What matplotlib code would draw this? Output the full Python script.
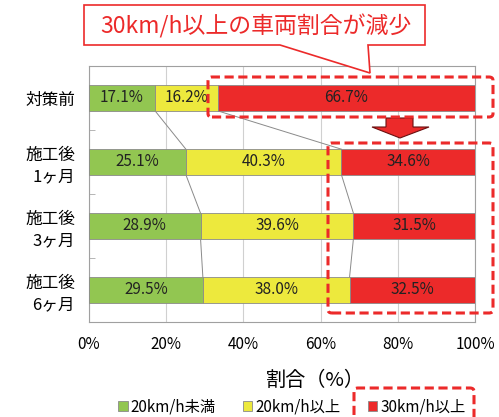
import numpy as np
import matplotlib.pyplot as plt
from matplotlib.patches import Polygon, FancyBboxPatch

plt.rcParams['font.family'] = ['Noto Sans CJK JP', 'DejaVu Sans']

# データ
categories = ['対策前', '施工後\n1ヶ月', '施工後\n3ヶ月', '施工後\n6ヶ月']
under20 = [17.1, 25.1, 28.9, 29.5]   # 20km/h未満
over20 = [16.2, 40.3, 39.6, 38.0]    # 20km/h以上
over30 = [66.7, 34.6, 31.5, 32.5]    # 30km/h以上
series_names = ['20km/h未満', '20km/h以上', '30km/h以上']
colors = ['#92c651', '#ede93d', '#ec2a2a']
xticks = [0, 20, 40, 60, 80, 100]

W, H = 499, 417
fig = plt.figure(figsize=(W / 100, H / 100), dpi=100)
ax = fig.add_axes([89 / W, 1 - 322 / H, 386 / W, 256 / H])


def px(x, y):
    return (x / W, 1 - y / H)


y = np.arange(len(categories))
bh = 0.4
left = np.zeros(len(categories))
for vals, c, name in zip([under20, over20, over30], colors, series_names):
    ax.barh(y, vals, left=left, height=bh, color=c, edgecolor='#8a8a8a',
            linewidth=0.6, label=name, zorder=3)
    for yi, v, l in zip(y, vals, left):
        ax.text(l + v / 2, yi, f'{v:.1f}%', ha='center', va='center',
                fontsize=11, color='#222222', zorder=4)
    left = left + np.array(vals)

# 系列線
cum1 = np.array(under20)
cum2 = cum1 + np.array(over20)
for cum in [cum1, cum2]:
    for i in range(len(categories) - 1):
        ax.plot([cum[i], cum[i + 1]], [i + bh / 2, i + 1 - bh / 2],
                color='#8a8a8a', lw=0.7, zorder=2)

ax.set_xlim(0, 100)
ax.set_ylim(len(categories) - 0.5, -0.5)
ax.set_xticks(xticks)
ax.set_xticklabels([f'{t}%' for t in xticks], fontsize=11)
ax.tick_params(axis='x', length=0, pad=10)
ax.set_yticks(y)
ax.set_yticklabels(categories, fontsize=12, linespacing=1.3)
ax.tick_params(axis='y', length=0, pad=10)
ax.set_yticks(np.arange(0.5, len(categories) - 0.5), minor=True)
ax.tick_params(axis='y', which='minor', direction='in', length=4, color='#aaaaaa')
ax.grid(axis='x', color='#d0d0d0', lw=0.8, zorder=0)
for s in ax.spines.values():
    s.set_color('#a0a0a0')
ax.set_xlabel('割合（%）', fontsize=14.5)
ax.xaxis.set_label_coords((315 - 89) / 386, -(370 - 322) / 256)

ax.legend(loc='center', bbox_to_anchor=(292 / W, px(0, 407)[1]),
          bbox_transform=fig.transFigure, ncol=3, frameon=False,
          fontsize=11, handlelength=0.6, handleheight=0.6,
          handletextpad=0.2, columnspacing=1.8)

# 吹き出し
callout = Polygon([px(84, 5), px(425, 5), px(425, 45), px(368, 45), px(370, 73),
                   px(280, 45), px(84, 45)], closed=True, transform=fig.transFigure,
                  facecolor='white', edgecolor='#ec2a2a', lw=1.2, zorder=10)
fig.add_artist(callout)
fig.text(*px(256, 26), '30km/h以上の車両割合が減少', ha='center', va='center',
         fontsize=16.5, color='#ec2a2a', zorder=11)

# 点線枠
for x0, y0, x1, y1 in [(208, 77, 493, 117), (328, 143, 493, 313), (354, 388, 474, 430)]:
    (fx0, fy1), (fx1, fy0) = px(x0, y0), px(x1, y1)
    box = FancyBboxPatch((fx0, fy0), fx1 - fx0, fy1 - fy0,
                         boxstyle='round,pad=0,rounding_size=0.008',
                         transform=fig.transFigure, fill=False,
                         edgecolor='#ec2a2a', lw=2.2, linestyle=(0, (3, 1.5)),
                         zorder=9)
    fig.add_artist(box)

# 矢印
arrow = Polygon([px(386, 118), px(413, 118), px(413, 127), px(429, 127),
                 px(400, 138), px(372, 127), px(386, 127)], closed=True,
                transform=fig.transFigure, facecolor='#ec2a2a',
                edgecolor='#6a1010', lw=0.8, zorder=8)
fig.add_artist(arrow)

fig.savefig('out.png', dpi=100)
